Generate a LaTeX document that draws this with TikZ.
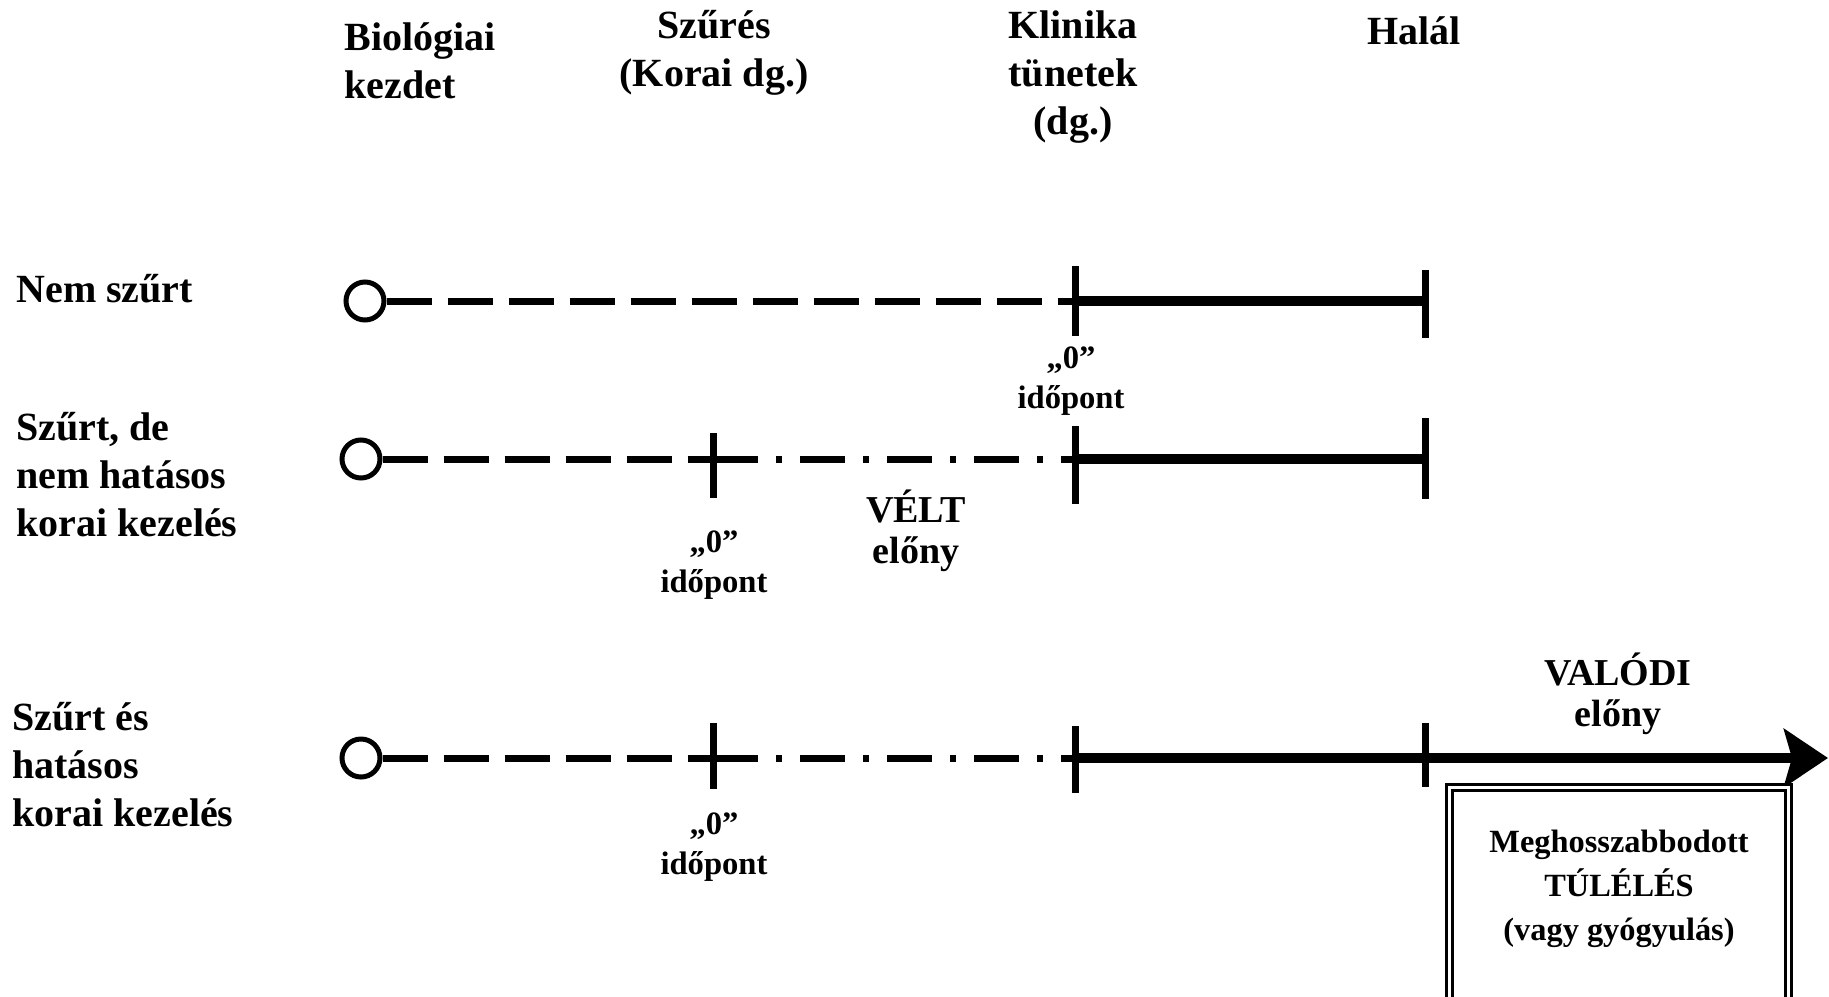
\documentclass[tikz,border=0pt]{standalone}
\usepackage{fontspec}
\setmainfont{Liberation Serif}
\usetikzlibrary{arrows.meta}

\begin{document}
\begin{tikzpicture}[x=0.5pt, y=-0.5pt,
  rowlbl/.style={font=\bfseries\fontsize{20}{24}\selectfont, inner sep=0pt, align=left, anchor=base west},
  headlbl/.style={font=\bfseries\fontsize{20}{24}\selectfont, inner sep=0pt, align=center, anchor=base},
  zerolbl/.style={font=\bfseries\fontsize{16.3}{20}\selectfont, inner sep=0pt, align=center, anchor=base},
  gainlbl/.style={font=\bfseries\fontsize{19}{20.5}\selectfont, inner sep=0pt, align=center, anchor=base},
  onset/.style={draw, circle, line width=2.5pt, minimum size=19pt, inner sep=0pt},
  dashln/.style={line width=3.5pt, dash pattern=on 22.5pt off 8pt},
  dotln/.style={line width=3.5pt, dash pattern=on 22.5pt off 9pt on 3pt off 9pt},
  solidln/.style={line width=5pt},
  tck/.style={line width=3.5pt},
]
\useasboundingbox (0,0) rectangle (1829,996);
\clip (0,0) rectangle (1829,996);
\fill[white] (0,0) rectangle (1829,996);

% headings (base = last line)
\node[rowlbl] (bio) at (344,98) {Biológiai\\kezdet};
\node[headlbl] (szur) at (714,86) {Szűrés\\(Korai dg.)};
\node[headlbl] (klin) at (1073,134) {Klinika\\tünetek\\(dg.)};
\node[headlbl] (halal) at (1414,44) {Halál};

% row labels
\node[rowlbl] (nem) at (16,302) {Nem szűrt};
\node[rowlbl] (nemhat) at (16,536) {Szűrt, de\\nem hatásos\\korai kezelés};
\node[rowlbl] (hat) at (12,826) {Szűrt és\\hatásos\\korai kezelés};

% row 1
\node[onset] (o1) at (365,301) {};
\coordinate (k1) at (1075,301);
\coordinate (h1) at (1425,301);
\draw[dashln] (o1) -- (k1);
\draw[solidln] (k1) -- (h1);
\draw[tck] (1075,266) -- (1075,336);
\draw[tck] (1425,270) -- (1425,338);
\node[zerolbl] (z1) at (1071,408) {„0”\\időpont};

% row 2
\node[onset] (o2) at (361,459) {};
\coordinate (s2) at (713,459);
\coordinate (k2) at (1075,459);
\coordinate (h2) at (1425,459);
\draw[dashln] (o2) -- (s2);
\draw[dotln] (s2) -- (k2);
\draw[solidln] (k2) -- (h2);
\draw[tck] (713,433) -- (713,498);
\draw[tck] (1075,426) -- (1075,504);
\draw[tck] (1425,418) -- (1425,499);
\node[zerolbl] (z2) at (714,592) {„0”\\időpont};
\node[gainlbl] (velt) at (916,563) {VÉLT\\előny};

% row 3
\node[onset] (o3) at (361,758) {};
\coordinate (s3) at (713,758);
\coordinate (k3) at (1075,758);
\coordinate (tip) at (1828,758);
\draw[dashln] (o3) -- (s3);
\draw[dotln] (s3) -- (k3);
\draw[solidln, -{Stealth[length=22pt, width=29pt, inset=4pt]}] (k3) -- (tip);
\draw[tck] (713,723) -- (713,789);
\draw[tck] (1075,726) -- (1075,793);
\draw[tck] (1425,723) -- (1425,787);
\node[zerolbl] (z3) at (714,874) {„0”\\időpont};
\node[gainlbl] (valodi) at (1618,726) {VALÓDI\\előny};

% survival box
\draw[double, line width=1.4pt, double distance=1.6pt] (1449.4,1020) |- (1788.6,787.4) -- (1788.6,1020);
\node[font=\bfseries\fontsize{16.2}{22}\selectfont, inner sep=0pt, align=center, anchor=base] (surv) at (1619,940) {Meghosszabbodott\\TÚLÉLÉS\\(vagy gyógyulás)};
\end{tikzpicture}
\end{document}
